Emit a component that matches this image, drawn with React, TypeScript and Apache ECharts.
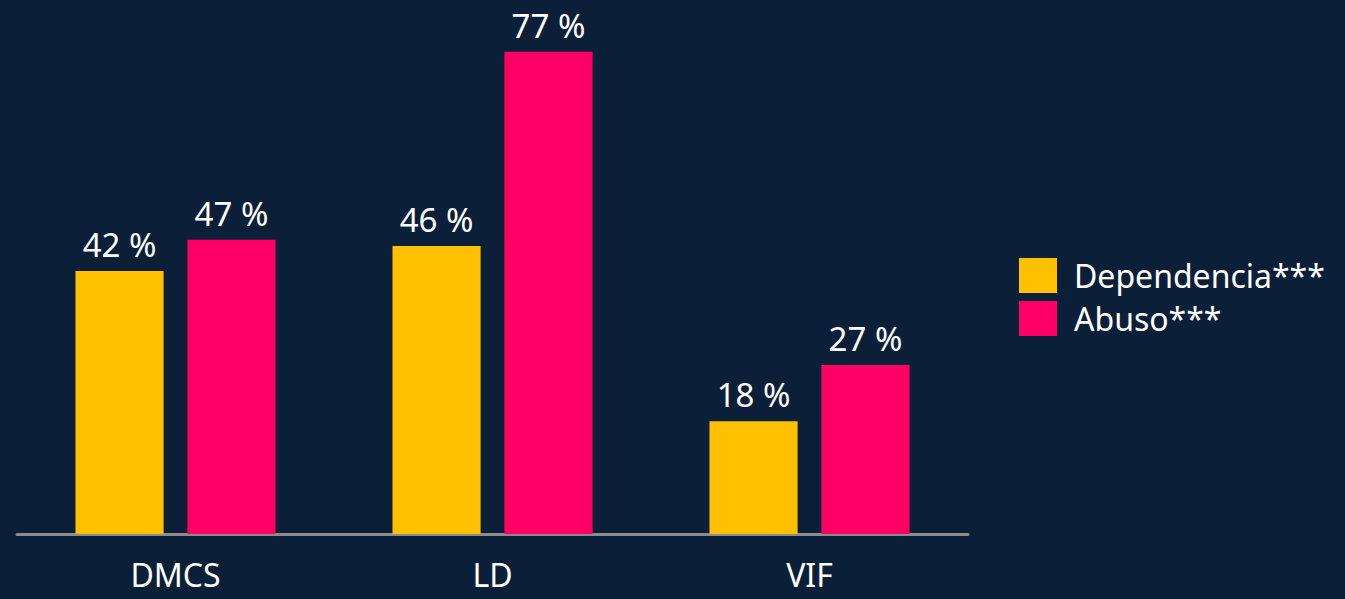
import React, { useEffect, useRef } from "react";
import * as echarts from "echarts";

const categories = ["DMCS", "LD", "VIF"];
const dependencia = [42, 46, 18];
const abuso = [47, 77, 27];
const seriesNames = ["Dependencia***", "Abuso***"];

const FONT = "'Noto Sans', 'DejaVu Sans', sans-serif";

export default function App() {
  const ref = useRef<HTMLDivElement>(null);
  useEffect(() => {
    const chart = echarts.init(ref.current!, null, { renderer: "svg" });
    const label = {
      show: true,
      position: "top" as const,
      distance: 10,
      color: "#ffffff",
      fontSize: 33,
      fontFamily: FONT,
      formatter: (p: any) => `${p.value} %`,
    };
    chart.setOption({
      animation: false,
      backgroundColor: "#0b2038",
      grid: { left: 17, right: 377, top: 33, bottom: 65 },
      legend: {
        orient: "vertical",
        left: 1014,
        top: 253,
        itemWidth: 38,
        itemHeight: 35,
        itemGap: 8,
        icon: "rect",
        textStyle: { color: "#ffffff", fontSize: 32, fontFamily: FONT, padding: [0, 0, 0, 12] },
        data: seriesNames,
      },
      xAxis: {
        type: "category",
        data: categories,
        axisLine: { show: true, lineStyle: { color: "#8c8c8c", width: 3 } },
        axisTick: { show: false },
        axisLabel: { color: "#ffffff", fontSize: 32, fontFamily: FONT, margin: 24 },
      },
      yAxis: {
        type: "value",
        min: 0,
        max: 80,
        show: false,
        splitLine: { show: false },
      },
      series: [
        {
          name: seriesNames[0],
          type: "bar",
          data: dependencia,
          barWidth: "27.8%",
          barGap: "27%",
          itemStyle: { color: "#ffc000" },
          label,
        },
        {
          name: seriesNames[1],
          type: "bar",
          data: abuso,
          barWidth: "27.8%",
          itemStyle: { color: "#ff0066" },
          label,
        },
      ],
    });
    return () => chart.dispose();
  }, []);
  return <div ref={ref} style={{ width: 1345, height: 599, position: "absolute", left: 0, top: 0 }} />;
}
